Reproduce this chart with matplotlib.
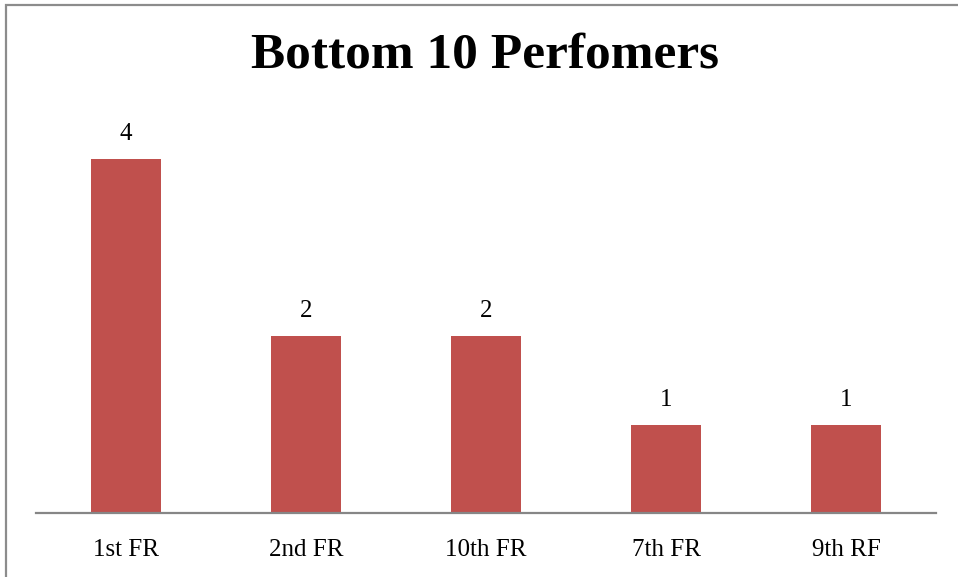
import matplotlib.pyplot as plt
from matplotlib.patches import Rectangle

categories = ["1st FR", "2nd FR", "10th FR", "7th FR", "9th RF"]
counts = [4, 2, 2, 1, 1]

BAR_COLOR = "#C0504D"
W, H = 958, 577

plt.rcParams["font.family"] = ["Liberation Serif", "DejaVu Serif"]

fig = plt.figure(figsize=(W / 100, H / 100), dpi=100)
ax = fig.add_axes([36 / W, (H - 513) / H, 900 / W, (513 - 115) / H])

x = range(len(categories))
bars = ax.bar(x, counts, width=0.39, color=BAR_COLOR)
ax.bar_label(bars, labels=[str(v) for v in counts], padding=10, fontsize=18)

ax.set_xlim(-0.5, len(categories) - 0.5)
ax.set_ylim(0, 4.5)
ax.set_xticks(list(x))
ax.set_xticklabels(categories, fontsize=18)
ax.tick_params(axis="x", length=0, pad=19)
ax.set_yticks([])
for side in ("left", "right", "top"):
    ax.spines[side].set_visible(False)
ax.spines["bottom"].set_color("#868686")
ax.spines["bottom"].set_linewidth(1.6)

fig.text(485 / W, 1 - 56 / H, "Bottom 10 Perfomers", ha="center", va="center",
         fontsize=37, fontweight="bold")

# chart border, running off the right and bottom edges
fig.patches.append(Rectangle((6 / W, -0.1), 1.2, 1 - 5 / H + 0.1,
                             transform=fig.transFigure, fill=False,
                             edgecolor="#8c8c8c", linewidth=1.6))

fig.savefig("out.png", dpi=100)
